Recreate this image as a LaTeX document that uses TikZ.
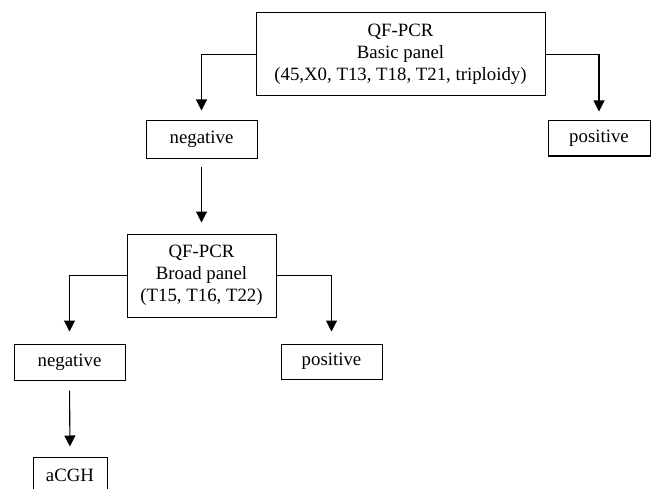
\documentclass[tikz,border=0pt]{standalone}
\usepackage{fontspec}
\setmainfont{Liberation Serif}
\usetikzlibrary{arrows.meta}

\begin{document}
\begin{tikzpicture}[x=1pt,y=-1pt]

    \tikzset{
      BoxStyle/.style = { rectangle, draw, line width=1pt, inner sep=0pt,
                          align=center, font=\fontsize{18.8}{22}\selectfont },
      ArrowStyle/.style = { line width=1.1pt,
                            -{Triangle[length=11pt,width=11pt]} } }

    \clip (0,0) rectangle (652,489);

      \node[BoxStyle, minimum width=289pt, minimum height=83pt] (basic) at (400.5,54.5)
        {QF-PCR\\Basic panel\\(45,X0, T13, T18, T21, triploidy)};
      \node[BoxStyle, minimum width=111pt, minimum height=37pt] (neg1) at (201.5,139.5) {negative};
      \node[BoxStyle, minimum width=102pt, minimum height=35pt] (pos1) at (599,138.5) {positive};

      \node[BoxStyle, minimum width=149pt, minimum height=83pt] (broad) at (201.5,275.5)
        {QF-PCR\\Broad panel\\(T15, T16, T22)};
      \node[BoxStyle, minimum width=111pt, minimum height=36pt] (neg2) at (69.5,362) {negative};
      \node[BoxStyle, minimum width=101pt, minimum height=35pt] (pos2) at (331.5,361.5) {positive};

      \node[BoxStyle, minimum width=74pt, minimum height=37pt] (acgh) at (70,475.5) {aCGH};

      \draw[ArrowStyle, shorten >=10pt] (basic.west) -| (neg1.north);
      \draw[ArrowStyle, shorten >=9pt] (basic.east) -| (pos1.north);
      \draw[ArrowStyle, shorten <=8pt, shorten >=11pt] (neg1.south) -- (broad.north);
      \draw[ArrowStyle, shorten >=12pt] (broad.west) -| (neg2.north);
      \draw[ArrowStyle, shorten >=12pt] (broad.east) -| (pos2.north);
      \draw[ArrowStyle, shorten <=10pt, shorten >=10pt] (neg2.south) -- (acgh.north);

    \end{tikzpicture}
\end{document}
